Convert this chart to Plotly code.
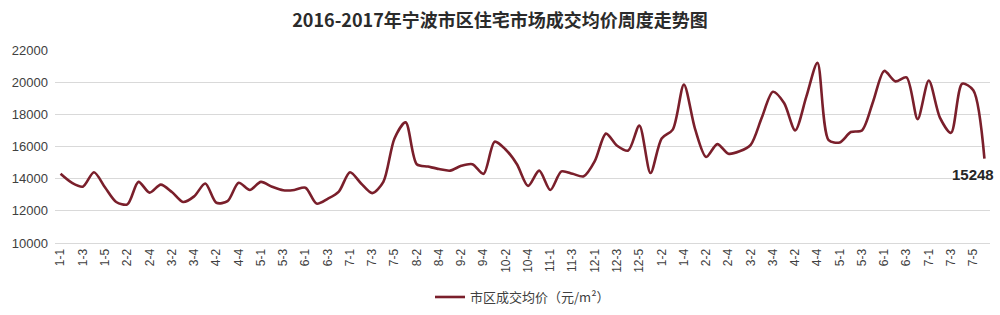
import plotly.graph_objects as go

# week labels (month-week), 2016 then 2017
months_2016 = [(1, 5), (2, 4), (3, 4), (4, 5), (5, 4), (6, 4), (7, 5), (8, 4), (9, 4), (10, 5), (11, 4), (12, 5)]
months_2017 = [(1, 4), (2, 4), (3, 4), (4, 5), (5, 4), (6, 4), (7, 5), (8, 1)]
weeks = [f"{m}-{w}" for m, n in months_2016 for w in range(1, n + 1)] + \
        [f"{m}-{w}" for m, n in months_2017 for w in range(1, n + 1)]

prices = [
    14300, 13750, 13500, 14400, 13450, 12550, 12400, 13800, 13130, 13630,
    13170, 12550, 12900, 13700, 12500, 12600, 13750, 13300, 13800, 13500,
    13280, 13300, 13440, 12450, 12750, 13200, 14400, 13700, 13100, 13800,
    16500, 17500, 14900, 14750, 14600, 14500, 14800, 14900, 14300, 16300,
    15800, 14900, 13550, 14500, 13300, 14450, 14300, 14150, 15100, 16800,
    16050, 15750, 17300, 14350, 16500, 17050, 19850, 17100, 15350, 16150,
    15550, 15700, 16100, 17800, 19400, 18700, 17000, 19100, 21200, 16400,
    16250, 16900, 17000, 18800, 20700, 20050, 20300, 17700, 20100, 17800,
    16850, 19900, 19500, 15248,
]

series_name = "市区成交均价（元/m²）"
title_text = "2016-2017年宁波市区住宅市场成交均价周度走势图"
y_ticks = [10000, 12000, 14000, 16000, 18000, 20000, 22000]

x = list(range(len(prices)))
tickvals = x[::2]
ticktext = weeks[::2]

fig = go.Figure()
fig.add_trace(go.Scatter(
    x=x, y=prices, mode="lines", name=series_name,
    line=dict(color="#7a1f2b", width=2.6, shape="spline", smoothing=0.8),
))

fig.add_annotation(
    x=x[-1], y=prices[-1], text="<b>15248</b>", showarrow=False,
    xanchor="center", yanchor="top", xshift=-11, yshift=-5,
    font=dict(size=15, color="#262626"),
)

fig.update_layout(
    width=1000, height=315,
    margin=dict(l=55, r=10, t=50, b=72, autoexpand=False),
    paper_bgcolor="white", plot_bgcolor="white",
    font=dict(family="Liberation Sans, Noto Sans CJK SC, sans-serif", color="#404040"),
    title=dict(text="<b>" + title_text + "</b>", x=0.5, xanchor="center",
               y=0.935, yanchor="middle",
               font=dict(size=18, color="#2b2b2b",
                         family="Noto Sans CJK SC, Liberation Sans, sans-serif")),
    showlegend=True,
    legend=dict(orientation="h", x=0.5, xanchor="center", y=-0.28, yanchor="middle",
                font=dict(size=13, color="#404040",
                          family="Noto Sans CJK SC, Liberation Sans, sans-serif")),
    xaxis=dict(
        range=[-0.5, len(prices) - 0.5], automargin=False,
        tickmode="array", tickvals=tickvals, ticktext=ticktext,
        tickangle=-90, tickfont=dict(size=12, color="#404040"),
        showgrid=False, zeroline=False,
        showline=True, linecolor="#d9d9d9", linewidth=1, ticks="",
    ),
    yaxis=dict(
        range=[10000, 22000], tickmode="array", tickvals=y_ticks, tickformat="d",
        automargin=False, ticklabelstandoff=6,
        tickfont=dict(size=13, color="#404040"),
        showgrid=True, gridcolor="#d9d9d9", gridwidth=1,
        zeroline=False, showline=False, ticks="",
    ),
)

fig.write_html("out.html")
